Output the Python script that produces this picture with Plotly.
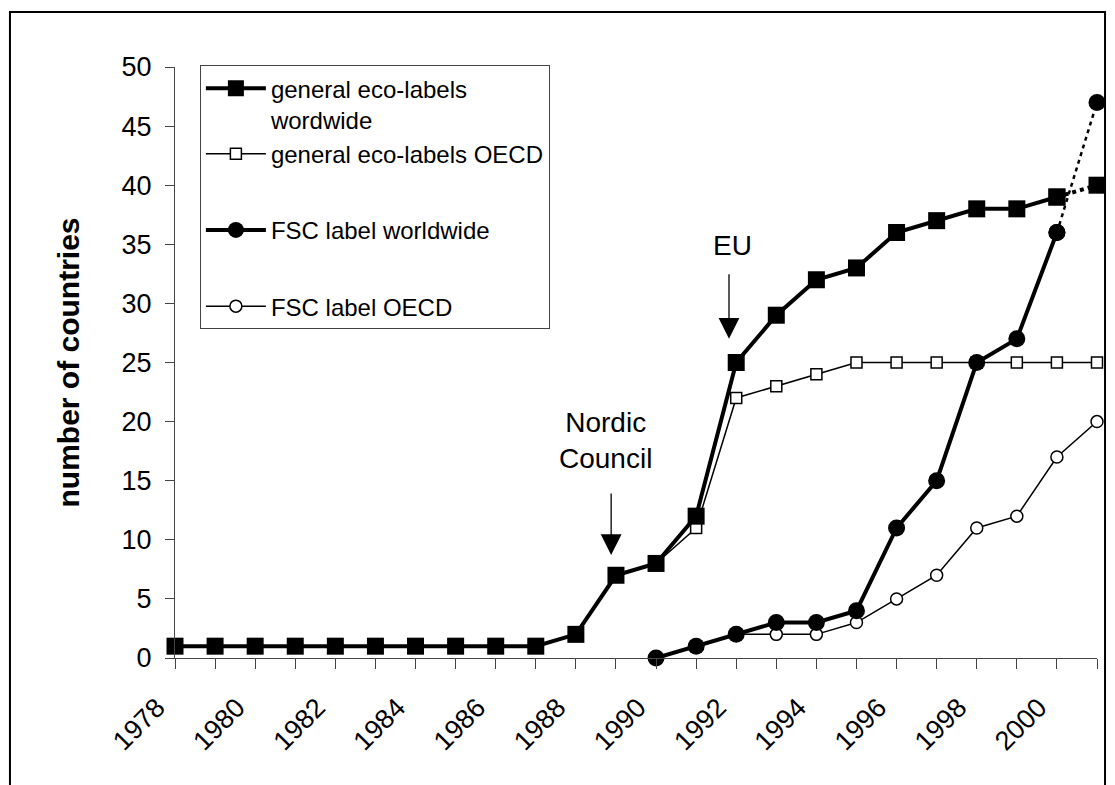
import plotly.graph_objects as go

years = list(range(1978, 2002))
tick_labels = [str(y) if y % 2 == 0 else "" for y in years]

general_world = [1, 1, 1, 1, 1, 1, 1, 1, 1, 1, 2, 7, 8, 12, 25, 29, 32, 33, 36, 37, 38, 38, 39, 40]
general_oecd = [1, 1, 1, 1, 1, 1, 1, 1, 1, 1, 2, 7, 8, 11, 22, 23, 24, 25, 25, 25, 25, 25, 25, 25]
fsc_world = [None] * 12 + [0, 1, 2, 3, 3, 4, 11, 15, 25, 27, 36, 47]
fsc_oecd = [None] * 12 + [0, 1, 2, 2, 2, 3, 5, 7, 11, 12, 17, 20]

FONT = "Arial, Liberation Sans, sans-serif"
fig = go.Figure()

# thin OECD series (drawn first, underneath)
fig.add_trace(go.Scatter(
    x=years, y=general_oecd, mode="lines+markers", name="general eco-labels OECD",
    line=dict(color="black", width=1.5),
    marker=dict(symbol="square", size=11, color="white", line=dict(color="black", width=1.5)),
    legendgroup="g1", legendrank=2, cliponaxis=False))
fig.add_trace(go.Scatter(
    x=years, y=fsc_oecd, mode="lines+markers", name="FSC label OECD",
    line=dict(color="black", width=1.5),
    marker=dict(symbol="circle", size=12, color="white", line=dict(color="black", width=1.5)),
    legendgroup="g4", legendrank=4, cliponaxis=False))

# thick worldwide series: solid up to 2000, dotted to 2001
fig.add_trace(go.Scatter(
    x=years[:-1], y=general_world[:-1], mode="lines+markers",
    name="general eco-labels<br>wordwide",
    line=dict(color="black", width=4),
    marker=dict(symbol="square", size=17, color="black"),
    legendgroup="g1", legendrank=1, cliponaxis=False))
fig.add_trace(go.Scatter(
    x=years[-2:], y=general_world[-2:], mode="lines+markers", showlegend=False,
    line=dict(color="black", width=4, dash="4px,4px"),
    marker=dict(symbol="square", size=17, color="black"), cliponaxis=False))
fig.add_trace(go.Scatter(
    x=years[:-1], y=fsc_world[:-1], mode="lines+markers", name="FSC label worldwide",
    line=dict(color="black", width=4),
    marker=dict(symbol="circle", size=17, color="black"),
    legendgroup="g3", legendrank=3, cliponaxis=False))
fig.add_trace(go.Scatter(
    x=years[-2:], y=fsc_world[-2:], mode="lines+markers", showlegend=False,
    line=dict(color="black", width=2.5, dash="4px,4px"),
    marker=dict(symbol="circle", size=17, color="black"), cliponaxis=False))

# annotations
fig.add_annotation(x=1991.9, y=34.86, text="EU", showarrow=False,
                   font=dict(family=FONT, size=28, color="black"))
fig.add_annotation(x=1991.82, y=27.0, ax=0, ay=-66, text="", showarrow=True,
                   arrowhead=2, arrowsize=3.2, arrowwidth=1.3, arrowcolor="black")
fig.add_annotation(x=1988.73, y=18.36, text="Nordic<br>Council", showarrow=False,
                   font=dict(family=FONT, size=28, color="black"))
fig.add_annotation(x=1988.88, y=8.71, ax=0, ay=-63, text="", showarrow=True,
                   arrowhead=2, arrowsize=3.2, arrowwidth=1.3, arrowcolor="black")

# outer border
fig.add_shape(type="rect", xref="paper", yref="paper",
              x0=-0.179, x1=1.0087, y0=-0.24, y1=1.093,
              line=dict(color="black", width=2), layer="below")

fig.update_layout(
    width=1115, height=785,
    margin=dict(l=175, r=18, t=67, b=127),
    paper_bgcolor="white", plot_bgcolor="white",
    font=dict(family=FONT, color="black"),
    showlegend=True,
    legend=dict(x=0.027, y=1.003, xanchor="left", yanchor="top",
                bgcolor="white", bordercolor="#444", borderwidth=1,
                font=dict(family=FONT, size=24, color="black"),
                tracegroupgap=42, valign="top", itemwidth=60,
                traceorder="grouped"),
    xaxis=dict(range=[1978, 2001], tickmode="array", tickvals=years, ticktext=tick_labels,
               tickangle=-45, ticks="outside", ticklen=10, tickcolor="#444",
               ticklabelstandoff=12, ticklabelshift=-18,
               showline=True, linecolor="#444", linewidth=1, showgrid=False, zeroline=False,
               tickfont=dict(family=FONT, size=27, color="black")),
    yaxis=dict(range=[0, 50], dtick=5, ticks="outside", ticklen=9, tickcolor="#444",
               ticklabelstandoff=8,
               showline=True, linecolor="#444", linewidth=1, showgrid=False, zeroline=False,
               tickfont=dict(family=FONT, size=27, color="black")),
)
fig.update_yaxes(title=dict(text="<b>number of countries</b>", standoff=33,
                            font=dict(family=FONT, size=30, color="black")))

fig.write_html("out.html", config={"displayModeBar": False},
               post_script="document.body.style.margin='0px';")
